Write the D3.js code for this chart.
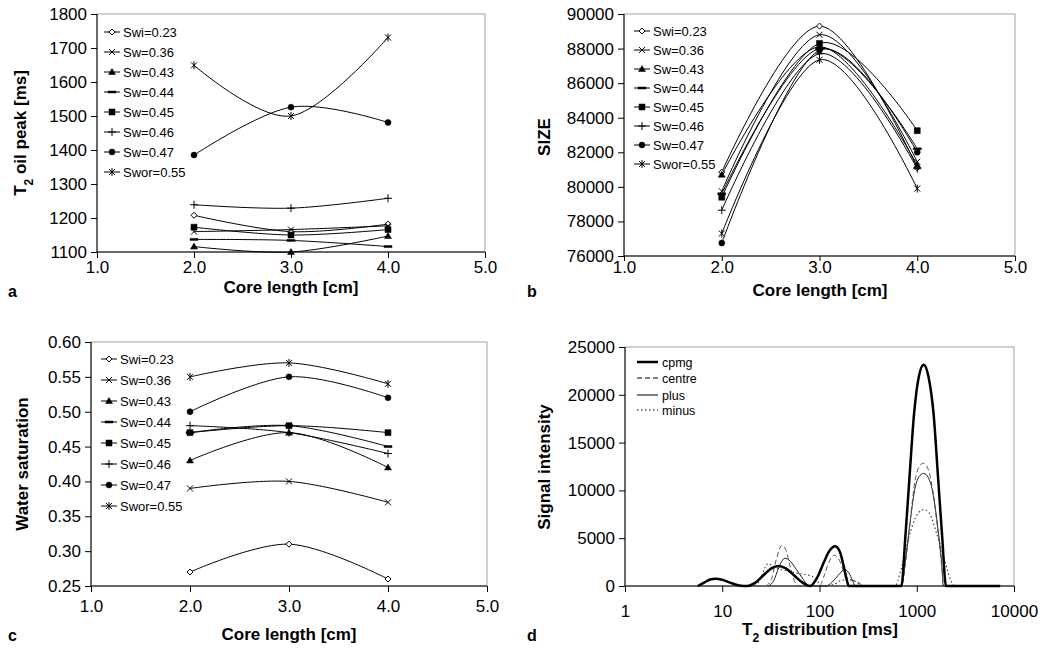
<!DOCTYPE html>
<html lang="en">
<head>
<meta charset="UTF-8">
<title>Core length charts</title>
<script src="https://cdnjs.cloudflare.com/ajax/libs/d3/7.8.5/d3.min.js"></script>
<style>
  body{margin:0;background:#fff;}
  svg{display:block;font-family:"Liberation Sans",Arial,sans-serif;}
  .tick text{font-size:17px;fill:#000;}
  .tick line{stroke:#000;}
  .ttl{font-size:17px;font-weight:bold;}
  .leg{font-size:13px;}
</style>
</head>
<body>
<svg id="chart" width="1050" height="648"></svg>
<script>
// ---- data ----
var coreLength = [2.0, 3.0, 4.0];
var seriesNames = ["Swi=0.23","Sw=0.36","Sw=0.43","Sw=0.44","Sw=0.45","Sw=0.46","Sw=0.47","Swor=0.55"];
var markerTypes = ["diamond","cross","triangle","dash","square","plus","dot","star"];

// a: T2 oil peak [ms]
var t2OilPeak = [
  [1208,1160,1182],
  [1160,1166,1177],
  [1116,1100,1147],
  [1137,1134,1116],
  [1173,1150,1166],
  [1239,1229,1258],
  [1385,1526,1481],
  [1649,1500,1731]
];
// b: SIZE
var sizeValues = [
  [80850,89300,81100],
  [79750,88800,81450],
  [80700,88100,81250],
  [79600,88000,82200],
  [79400,88300,83250],
  [78650,87700,81050],
  [76750,87900,82000],
  [77300,87350,79900]
];
// c: water saturation
var waterSat = [
  [0.27,0.31,0.26],
  [0.39,0.40,0.37],
  [0.43,0.47,0.42],
  [0.47,0.48,0.45],
  [0.47,0.48,0.47],
  [0.48,0.47,0.44],
  [0.50,0.55,0.52],
  [0.55,0.57,0.54]
];
// d: T2 distributions [T2 ms, signal]
var cpmg = [[5.6,0],[6.5,350],[7.5,680],[8.5,770],[10,650],[12,350],[15,60],[18,0],[22,350],[27,1200],[32,1850],[38,2100],[45,1850],[55,1100],[65,450],[80,0],[95,900],[110,2400],[125,3600],[145,4160],[163,3500],[178,2000],[190,700],[200,0],[695,0],[762,5000],[845,11600],[938,18000],[1050,21900],[1180,23150],[1320,21900],[1490,18000],[1650,11600],[1830,5000],[2000,0],[7200,0]];
var centre = [[28,0],[32,700],[36,2800],[41,4250],[45,3800],[50,2000],[56,400],[60,0],[100,0],[110,900],[125,2500],[142,3220],[160,2700],[180,1400],[200,700],[240,500],[290,0],[700,0],[770,2500],[860,7000],[960,11000],[1060,12500],[1170,12830],[1300,12300],[1460,10000],[1640,6000],[1800,2200],[1900,0],[7200,0]];
var plus = [[30,0],[34,600],[38,1900],[44,2900],[50,2600],[58,1700],[68,700],[78,0],[117,0],[135,400],[155,1100],[182,1710],[205,1200],[222,400],[232,0],[690,0],[760,2500],[850,6500],[950,10000],[1050,11400],[1180,11780],[1320,11300],[1480,9500],[1650,6000],[1800,2500],[1880,0],[7200,0]];
var minus = [[22,0],[25,800],[27.5,1900],[29.5,2340],[33,2100],[38,1800],[46,1600],[58,1350],[70,1200],[85,1000],[95,500],[105,0],[140,150],[170,600],[200,650],[230,500],[280,0],[600,0],[680,1500],[780,4000],[900,6300],[1050,7700],[1180,8000],[1350,7600],[1600,5500],[1900,3000],[2200,800],[2450,0],[7200,0]];
var distNames = ["cpmg","centre","plus","minus"];

var xTicks = [1,2,3,4,5];

var svg = d3.select("#chart");

function markerPath(type){
  switch(type){
    case "diamond": return "M0,-3L3,0L0,3L-3,0Z";
    case "cross": return "M-3,-3L3,3M3,-3L-3,3";
    case "triangle": return "M0,-3.5L3.5,2.5L-3.5,2.5Z";
    case "dash": return "M-4,-1H4V1H-4Z";
    case "square": return "M-3,-3H3V3H-3Z";
    case "plus": return "M-4,0H4M0,-4V4";
    case "dot": return "M3,0A3,3 0 1,1 -3,0A3,3 0 1,1 3,0Z";
    case "star": return "M-3,-3L3,3M3,-3L-3,3M0,-4V4";
  }
}
function drawMarker(g, type, x, y){
  var filled = (type=="triangle"||type=="dash"||type=="square"||type=="dot");
  g.append("path")
   .attr("d", markerPath(type))
   .attr("transform","translate("+x+","+y+")")
   .attr("fill", filled ? "#000" : (type=="diamond" ? "#fff" : "none"))
   .attr("stroke","#000")
   .attr("stroke-width", filled ? 0.5 : 1);
}

function frame(x0, x1, yTop, yBot){
  svg.append("rect").attr("x",x0).attr("y",yTop)
     .attr("width",x1-x0).attr("height",yBot-yTop)
     .attr("fill","none").attr("stroke","#a0a0a0");
  svg.append("line").attr("x1",x0).attr("x2",x0).attr("y1",yTop).attr("y2",yBot).attr("stroke","#000");
  svg.append("line").attr("x1",x0).attr("x2",x1).attr("y1",yBot).attr("y2",yBot).attr("stroke","#000");
}

function addTitle(t, parts){
  parts.forEach(function(p){
    var s = t.append("tspan").text(p[0]);
    if(p[1]) s.attr("baseline-shift","sub").attr("font-size","12px");
  });
}
function yTitle(x, y, parts){
  var t = svg.append("text").attr("class","ttl")
    .attr("transform","translate("+x+","+y+") rotate(-90)")
    .attr("text-anchor","middle");
  addTitle(t, parts);
}
function xTitle(x, y, parts){
  var t = svg.append("text").attr("class","ttl")
    .attr("x",x).attr("y",y).attr("text-anchor","middle");
  addTitle(t, parts);
}
function letter(x, y, s){
  svg.append("text").attr("x",x).attr("y",y)
     .attr("font-size","16px").attr("font-weight","bold").text(s);
}

// panels a, b, c share the same kind of plot
function corePanel(p){
  var x = d3.scaleLinear().domain([1,5]).range([p.x0,p.x1]);
  var y = d3.scaleLinear().domain(p.yDomain).range([p.yBot,p.yTop]);
  frame(p.x0, p.x1, p.yTop, p.yBot);

  svg.append("g").attr("transform","translate("+p.x0+",0)")
     .call(d3.axisLeft(y).tickValues(p.yTicks).tickFormat(p.yFmt).tickSize(6).tickPadding(4))
     .call(function(g){g.select(".domain").remove();});
  svg.append("g").attr("transform","translate(0,"+p.yBot+")")
     .call(d3.axisBottom(x).tickValues(xTicks).tickFormat(d3.format(".1f")).tickSize(p.xTick).tickPadding(p.xPad))
     .call(function(g){g.select(".domain").remove();});

  var line = d3.line()
     .x(function(d,i){return x(coreLength[i]);})
     .y(function(d){return y(d);})
     .curve(d3.curveCatmullRom.alpha(0));

  p.values.forEach(function(vals, k){
    svg.append("path").attr("d", line(vals))
       .attr("fill","none").attr("stroke","#000").attr("stroke-width",1);
    vals.forEach(function(v,i){ drawMarker(svg, markerTypes[k], x(coreLength[i]), y(v)); });
  });

  // legend
  seriesNames.forEach(function(n,k){
    var ly = p.legY + k*p.legStep;
    svg.append("line").attr("x1",p.legX).attr("x2",p.legX+16).attr("y1",ly).attr("y2",ly)
       .attr("stroke","#000");
    drawMarker(svg, markerTypes[k], p.legX+8, ly);
    svg.append("text").attr("class","leg").attr("x",p.legX+19).attr("y",ly+4.5).text(n);
  });
}

corePanel({x0:97, x1:485, yTop:14, yBot:252, yDomain:[1100,1800],
  yTicks:d3.range(1100,1801,100), yFmt:d3.format("d"), values:t2OilPeak,
  legX:104, legY:32, legStep:20, xTick:6, xPad:3});
yTitle(26, 133, [["T"],["2",true],[" oil peak [ms]"]]);
xTitle(291, 293, [["Core length [cm]"]]);
letter(8, 297, "a");

corePanel({x0:624, x1:1015, yTop:14, yBot:256, yDomain:[76000,90000],
  yTicks:d3.range(76000,90001,2000), yFmt:d3.format("d"), values:sizeValues,
  legX:634, legY:31, legStep:19, xTick:5, xPad:0});
yTitle(550, 137, [["SIZE"]]);
xTitle(820, 296, [["Core length [cm]"]]);
letter(527, 297, "b");

corePanel({x0:91, x1:487, yTop:342, yBot:586, yDomain:[0.25,0.60],
  yTicks:d3.range(0,8).map(function(i){return 0.25+0.05*i;}), yFmt:d3.format(".2f"), values:waterSat,
  legX:101, legY:359, legStep:21, xTick:6, xPad:8});
yTitle(28, 464, [["Water saturation"]]);
xTitle(289, 640, [["Core length [cm]"]]);
letter(8, 641, "c");

// panel d
(function(){
  var x0=625, x1=1014, yTop=347, yBot=586;
  var x = d3.scaleLog().domain([1,10000]).range([x0,x1]);
  var y = d3.scaleLinear().domain([0,25000]).range([yBot,yTop]);
  frame(x0, x1, yTop, yBot);
  svg.append("g").attr("transform","translate("+x0+",0)")
     .call(d3.axisLeft(y).tickValues(d3.range(0,25001,5000)).tickFormat(d3.format("d")).tickSize(6).tickPadding(4))
     .call(function(g){g.select(".domain").remove();});
  svg.append("g").attr("transform","translate(0,"+yBot+")")
     .call(d3.axisBottom(x).tickValues([1,10,100,1000,10000]).tickFormat(d3.format("d")).tickSize(6).tickPadding(13))
     .call(function(g){g.select(".domain").remove();});

  var line = d3.line().x(function(d){return x(d[0]);}).y(function(d){return y(d[1]);})
     .curve(d3.curveMonotoneX);
  var styles = [
    {data:cpmg, color:"#000", w:2.5, dash:null},
    {data:centre, color:"#555", w:1, dash:"5,3"},
    {data:plus, color:"#222", w:1, dash:null},
    {data:minus, color:"#444", w:1.2, dash:"1.5,2.5"}
  ];
  styles.slice().reverse().forEach(function(s){
    svg.append("path").attr("d", line(s.data)).attr("fill","none")
       .attr("stroke", s.color).attr("stroke-width", s.w)
       .attr("stroke-dasharray", s.dash);
  });
  var legY = [362, 378, 395, 410];
  styles.forEach(function(s,k){
    svg.append("line").attr("x1",637).attr("x2",658).attr("y1",legY[k]).attr("y2",legY[k])
       .attr("stroke","#000").attr("stroke-width",s.w).attr("stroke-dasharray",s.dash);
    svg.append("text").attr("x",662).attr("y",legY[k]+4.5).attr("font-size","12.5px").text(distNames[k]);
  });
  yTitle(550, 467, [["Signal intensity"]]);
  xTitle(820, 635, [["T"],["2",true],[" distribution [ms]"]]);
  letter(527, 641, "d");
})();
</script>
</body>
</html>
